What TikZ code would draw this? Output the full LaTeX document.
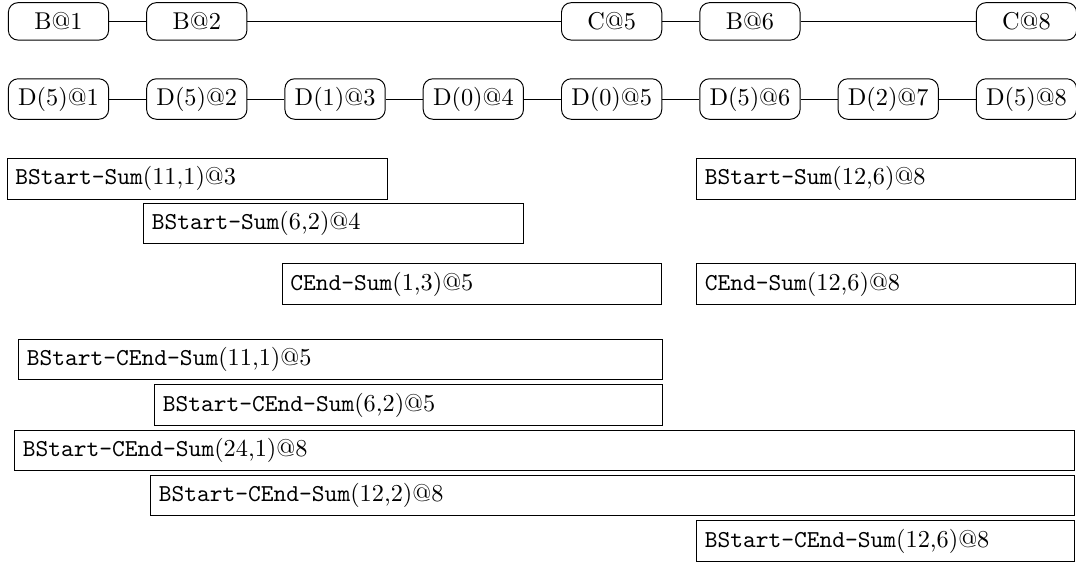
\documentclass[tikz,border=0pt]{standalone}
\usepackage{amsmath}

\begin{document}
\begin{tikzpicture}[
  evt/.style={draw, rounded corners=4pt, minimum width=1.45cm, minimum height=15.4pt, inner sep=3.33pt},
  sumbox/.style={draw, anchor=west, align=left, inner sep=3.33pt}]
  \useasboundingbox (1.154,0) rectangle (16.716,-8.143);
  % time t sits at x = 2t
  \node[evt] (b1) at (2,-0.309) {B@1};
  \node[evt] (b2) at (4,-0.309) {B@2};
  \node[evt] (c5) at (10,-0.309) {C@5};
  \node[evt] (b6) at (12,-0.309) {B@6};
  \node[evt] (c8) at (16,-0.309) {C@8};
  \draw (b1) -- (b2) -- (c5) -- (b6) -- (c8);
  \node[evt] (d1) at (2,-1.432) {D(5)@1};
  \node[evt] (d2) at (4,-1.432) {D(5)@2};
  \node[evt] (d3) at (6,-1.432) {D(1)@3};
  \node[evt] (d4) at (8,-1.432) {D(0)@4};
  \node[evt] (d5) at (10,-1.432) {D(0)@5};
  \node[evt] (d6) at (12,-1.432) {D(5)@6};
  \node[evt] (d7) at (14,-1.432) {D(2)@7};
  \node[evt] (d8) at (16,-1.432) {D(5)@8};
  \draw (d1) -- (d2) -- (d3) -- (d4) -- (d5) -- (d6) -- (d7) -- (d8);
  % partial sums
  \node[sumbox, text width=5.26cm] (bs3) at (1.251,-2.585) {\texttt{BStart-Sum}(11,1)@3};
  \node[sumbox, text width=5.25cm] (bs4) at (3.227,-3.235) {\texttt{BStart-Sum}(6,2)@4};
  \node[sumbox, text width=5.25cm] (ce5) at (5.228,-4.108) {\texttt{CEnd-Sum}(1,3)@5};
  \node[sumbox, text width=5.25cm] (bs8) at (11.224,-2.585) {\texttt{BStart-Sum}(12,6)@8};
  \node[sumbox, text width=5.25cm] (ce8) at (11.224,-4.108) {\texttt{CEnd-Sum}(12,6)@8};
  % combined sums
  \node[sumbox, text width=9.08cm] (bce5a) at (1.419,-5.202) {\texttt{BStart-CEnd-Sum}(11,1)@5};
  \node[sumbox, text width=7.11cm] (bce5b) at (3.386,-5.857) {\texttt{BStart-CEnd-Sum}(6,2)@5};
  \node[sumbox, text width=15.095cm] (bce8a) at (1.361,-6.513) {\texttt{BStart-CEnd-Sum}(24,1)@8};
  \node[sumbox, text width=13.128cm] (bce8b) at (3.328,-7.169) {\texttt{BStart-CEnd-Sum}(12,2)@8};
  \node[sumbox, text width=5.232cm] (bce8c) at (11.224,-7.825) {\texttt{BStart-CEnd-Sum}(12,6)@8};
\end{tikzpicture}
\end{document}
